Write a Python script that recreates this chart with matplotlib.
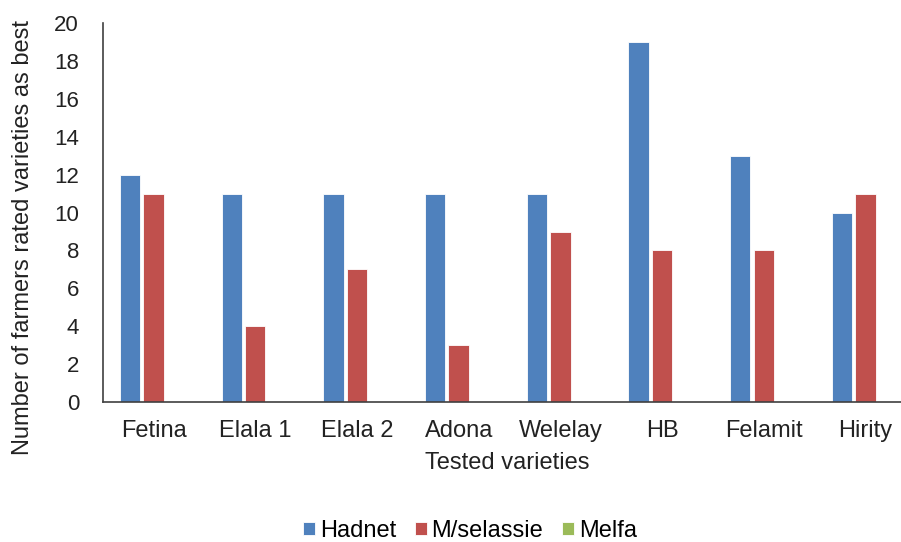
import matplotlib
matplotlib.use("Agg")
import matplotlib.pyplot as plt
import numpy as np

plt.rcParams['font.family'] = ['Liberation Sans', 'DejaVu Sans']

varieties = ["Fetina", "Elala 1", "Elala 2", "Adona", "Welelay", "HB", "Felamit", "Hirity"]
hadnet = [12, 11, 11, 11, 11, 19, 13, 10]
mselassie = [11, 4, 7, 3, 9, 8, 8, 11]
melfa = [0, 0, 0, 0, 0, 0, 0, 0]

series = [("Hadnet", hadnet, "#4F81BD"),
          ("M/selassie", mselassie, "#C0504D"),
          ("Melfa", melfa, "#9BBB59")]

W, H = 901, 542
fig = plt.figure(figsize=(W / 100, H / 100), dpi=100)
ax = fig.add_axes([0.114, 0.2583, 0.903, 0.699])

x = np.arange(len(varieties))
step = 0.232
width = 0.2
for i, (name, vals, col) in enumerate(series):
    ax.bar(x + (i - 1) * step, vals, width, color=col, label=name,
           edgecolor="white", linewidth=0.6)

ax.set_xlim(-0.5, len(varieties) - 0.5)
ax.set_ylim(0, 20)
ax.set_yticks(range(0, 21, 2))
ax.set_xticks(x)
ax.set_xticklabels(varieties)
ax.tick_params(axis="both", length=0, colors="#222222")
ax.tick_params(axis="x", labelsize=17, pad=13)
ax.tick_params(axis="y", labelsize=16, pad=17)

for s in ["top", "right"]:
    ax.spines[s].set_visible(False)
for s in ["left", "bottom"]:
    ax.spines[s].set_color("#404040")
    ax.spines[s].set_linewidth(1.2)

fig.text(507 / W, 1 - 463 / H, "Tested varieties", fontsize=17,
         color="#222222", ha="center", va="center")
fig.text(23 / W, 1 - 237.5 / H, "Number of farmers rated varieties as best",
         fontsize=17, color="#222222", rotation=90, ha="center", va="center")

fig.legend(*ax.get_legend_handles_labels(), loc="center",
           bbox_to_anchor=(470 / W, 1 - 531 / H), ncol=3,
           frameon=False, fontsize=17, handlelength=0.5, handleheight=0.5,
           handletextpad=0.2, columnspacing=0.8, borderpad=0.1)

fig.savefig("out.png", dpi=100)
